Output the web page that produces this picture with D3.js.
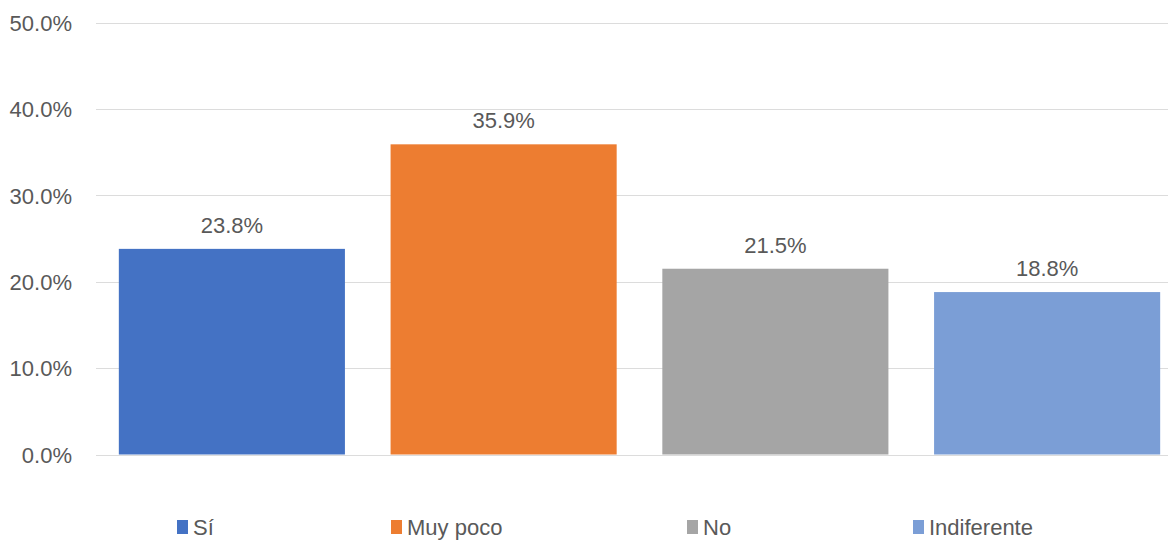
<!DOCTYPE html>
<html>
<head>
<meta charset="utf-8">
<script src="https://cdn.jsdelivr.net/npm/d3@7"></script>
<style>
  html, body { margin: 0; padding: 0; background: #fff; }
  svg { display: block; }
  text { font-family: "Liberation Sans", Arial, sans-serif; fill: #595959; }
</style>
</head>
<body>
<svg id="chart" width="1168" height="540"></svg>
<script>
// Survey answers and their shares (percent)
const categories = ["Sí", "Muy poco", "No", "Indiferente"];
const values = [23.8, 35.9, 21.5, 18.8];
const colors = ["#4472C4", "#ED7D31", "#A5A5A5", "#7B9ED6"];
const yTicks = [0, 10, 20, 30, 40, 50];

const svg = d3.select("#chart");

const x = d3.scaleBand()
  .domain(categories)
  .range([96, 1183])
  .paddingInner(0.168)
  .paddingOuter(0.084);

const y = d3.scaleLinear()
  .domain([0, 50])
  .range([454.5, 22.5]);

// Horizontal gridlines
svg.append("g")
  .selectAll("line")
  .data(yTicks)
  .join("line")
  .attr("x1", 96)
  .attr("x2", 1183)
  .attr("y1", d => Math.round(y(d)) + 0.5)
  .attr("y2", d => Math.round(y(d)) + 0.5)
  .attr("stroke", "#dcdcdc")
  .attr("stroke-width", 1.2);

// Y axis labels
const yAxis = d3.axisLeft(y)
  .tickValues(yTicks)
  .tickSize(0)
  .tickPadding(0)
  .tickFormat(d => d3.format(".1f")(d) + "%");

const gy = svg.append("g")
  .attr("transform", "translate(72,0)")
  .call(yAxis);
gy.select(".domain").remove();
gy.selectAll("text")
  .attr("font-size", 22)
  .attr("dy", "0.35em")
  .style("font-family", null)
  .attr("fill", "#595959");

// Bars
svg.append("g")
  .selectAll("rect")
  .data(values)
  .join("rect")
  .attr("x", (d, i) => x(categories[i]))
  .attr("width", x.bandwidth())
  .attr("y", d => y(d))
  .attr("height", d => y(0) - y(d))
  .attr("fill", (d, i) => colors[i]);

// Value labels
svg.append("g")
  .selectAll("text")
  .data(values)
  .join("text")
  .attr("x", (d, i) => x(categories[i]) + x.bandwidth() / 2)
  .attr("y", d => y(d) - 16)
  .attr("text-anchor", "middle")
  .attr("font-size", 22)
  .text(d => d3.format(".1f")(d) + "%");

// Legend
const legendX = [177, 391, 687, 913];
const legend = svg.append("g")
  .selectAll("g")
  .data(categories)
  .join("g")
  .attr("transform", (d, i) => `translate(${legendX[i]},520)`);
legend.append("rect")
  .attr("width", 11)
  .attr("height", 14)
  .attr("fill", (d, i) => colors[i]);
legend.append("text")
  .attr("x", 16)
  .attr("y", 15)
  .attr("font-size", 22)
  .text(d => d);
</script>
</body>
</html>
